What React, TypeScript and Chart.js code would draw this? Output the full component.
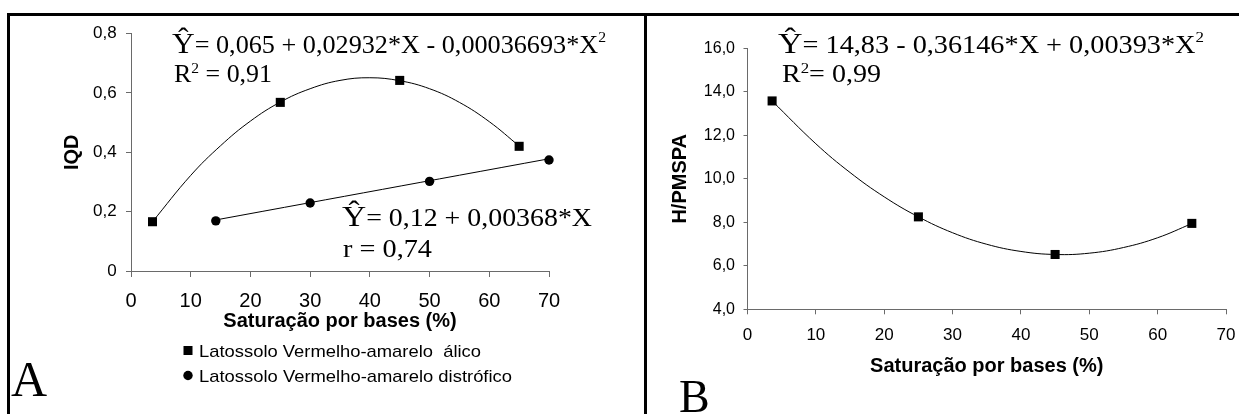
import React, { useEffect, useRef } from 'react';
import { Chart, registerables } from 'chart.js';

Chart.register(...registerables);

// ---------- data ----------
const xTickValues = [0, 10, 20, 30, 40, 50, 60, 70];

// Panel A – IQD
const aliX = [3.6, 25, 45, 65];
const aliY = [0.166, 0.568, 0.642, 0.42];
const disX = [14.2, 30, 50, 70];
const disY = [0.169, 0.229, 0.302, 0.374];
const aliFitX = [3.6, 10, 15, 20, 25, 30, 35, 40, 45, 50, 55, 60, 65];
const aliFitY = [0.166, 0.322, 0.422, 0.505, 0.569, 0.614, 0.642, 0.651, 0.641, 0.614, 0.568, 0.503, 0.421];
const disFitX = [14.2, 70];
const disFitY = [0.172, 0.378];
const yTicksA = [0, 0.2, 0.4, 0.6, 0.8];

// Panel B – H/PMSPA
const hX = [3.6, 25, 45, 65];
const hY = [13.58, 8.25, 6.52, 7.95];
const hFitX = [3.6, 10, 15, 20, 25, 30, 35, 40, 45, 50, 55, 60, 65];
const hFitY = [13.58, 11.61, 10.29, 9.17, 8.25, 7.52, 6.99, 6.66, 6.52, 6.58, 6.84, 7.29, 7.94];
const yTicksB = [4, 6, 8, 10, 12, 14, 16];

const xTitle = 'Saturação por bases (%)';
const legendA = ['Latossolo Vermelho-amarelo  álico', 'Latossolo Vermelho-amarelo distrófico'];

// ---------- helpers ----------
const SANS = '"Liberation Sans", Arial, sans-serif';
const SERIF = '"Liberation Serif", "Times New Roman", serif';
const AXIS = '#6a6a6a';

type Part = { t: string; size: number; dy?: number; family?: string; weight?: string };

function drawRich(ctx: CanvasRenderingContext2D, x: number, y: number, right: number | null, parts: Part[]) {
  const fam = (p: Part) => `${p.weight || 'normal'} ${p.size}px ${p.family || SERIF}`;
  const widths = parts.map((p) => {
    ctx.font = fam(p);
    return ctx.measureText(p.t).width;
  });
  const natural = widths.reduce((a, b) => a + b, 0);
  const sx = right != null ? (right - x) / natural : 1;
  ctx.save();
  ctx.translate(x, y);
  ctx.scale(sx, 1);
  ctx.fillStyle = '#000';
  ctx.textAlign = 'left';
  ctx.textBaseline = 'alphabetic';
  let cx = 0;
  parts.forEach((p, i) => {
    ctx.font = fam(p);
    ctx.fillText(p.t, cx, p.dy || 0);
    cx += widths[i];
  });
  ctx.restore();
}

const pts = (xs: number[], ys: number[]) => xs.map((x, i) => ({ x, y: ys[i] }));

const fmt1 = (v: number) => (v === 0 ? '0' : v.toFixed(1).replace('.', ','));
const fmtB = (v: number) => v.toFixed(1).replace('.', ',');

type Geo = {
  padL: number; padR: number; padT: number; padB: number;
  yW: number; xH: number;
  xTL: number; yTL: number; xPad: number; yPad: number;
  xFs: number; yFs: number;
  yMin: number; yMax: number; yTicks: number[]; yFmt: (v: number) => string; yTitle: string;
};

function makeOptions(g: Geo): any {
  const zeroPad = (s: any) => {
    s.paddingLeft = 0; s.paddingRight = 0; s.paddingTop = 0; s.paddingBottom = 0;
  };
  return {
    responsive: false,
    animation: false,
    events: [],
    layout: { padding: { left: g.padL, right: g.padR, top: g.padT, bottom: g.padB } },
    plugins: { legend: { display: false }, tooltip: { enabled: false }, title: { display: false } },
    scales: {
      x: {
        type: 'linear',
        min: 0,
        max: 70,
        afterBuildTicks: (s: any) => { s.ticks = xTickValues.map((v) => ({ value: v })); },
        afterFit: (s: any) => { s.height = g.xH; zeroPad(s); },
        grid: { drawOnChartArea: false, drawTicks: true, tickLength: g.xTL, color: AXIS, lineWidth: 1 },
        border: { display: true, color: AXIS, width: 1 },
        ticks: {
          padding: g.xPad, color: '#000', font: { size: g.xFs, family: SANS },
          maxRotation: 0, autoSkip: false, callback: (v: any) => String(v),
        },
        title: { display: true, text: xTitle, color: '#000', font: { size: 20, weight: 'bold', family: SANS }, padding: 0 },
      },
      y: {
        type: 'linear',
        min: g.yMin,
        max: g.yMax,
        afterBuildTicks: (s: any) => { s.ticks = g.yTicks.map((v) => ({ value: v })); },
        afterFit: (s: any) => { s.width = g.yW; zeroPad(s); },
        grid: { drawOnChartArea: false, drawTicks: true, tickLength: g.yTL, color: AXIS, lineWidth: 1 },
        border: { display: true, color: AXIS, width: 1 },
        ticks: {
          padding: g.yPad, color: '#000', font: { size: g.yFs, family: SANS },
          autoSkip: false, callback: (v: any) => g.yFmt(Number(v)),
        },
        title: { display: true, text: g.yTitle, color: '#000', font: { size: 20, weight: 'bold', family: SANS }, padding: 0 },
      },
    },
  };
}

const curveDs = (data: any[]) => ({
  data, showLine: true, borderColor: '#000', borderWidth: 1, pointRadius: 0, tension: 0.4, clip: false, fill: false,
});
const markDs = (data: any[], style: string, r: number) => ({
  data, showLine: false, pointStyle: style, pointRadius: r, backgroundColor: '#000', borderColor: '#000',
  borderWidth: 0, clip: false,
});

// ---------- annotation plugins ----------
const annotA = {
  id: 'annotA',
  afterDraw(chart: any) {
    const ctx: CanvasRenderingContext2D = chart.ctx;
    drawRich(ctx, 172, 53, 606, [
      { t: 'Ŷ', size: 30 },
      { t: '= 0,065 + 0,02932*X - 0,00036693*X', size: 25 },
      { t: '2', size: 15, dy: -11 },
    ]);
    drawRich(ctx, 174, 82, 272, [
      { t: 'R', size: 25 },
      { t: '2', size: 15, dy: -9 },
      { t: ' = 0,91', size: 25 },
    ]);
    drawRich(ctx, 342, 226, 592, [
      { t: 'Ŷ', size: 30 },
      { t: '= 0,12 + 0,00368*X', size: 25 },
    ]);
    drawRich(ctx, 343, 257, 432, [{ t: 'r = 0,74', size: 25 }]);
    // legend
    ctx.save();
    ctx.fillStyle = '#000';
    ctx.fillRect(183.5, 346, 9, 9);
    ctx.beginPath();
    ctx.arc(188, 375.5, 4.7, 0, Math.PI * 2);
    ctx.fill();
    ctx.restore();
    drawRich(ctx, 199, 357, 481, [{ t: legendA[0], size: 17, family: SANS }]);
    drawRich(ctx, 199, 381.5, 512, [{ t: legendA[1], size: 17, family: SANS }]);
    // panel letter
    drawRich(ctx, 11, 396, null, [{ t: 'A', size: 50 }]);
  },
};

const OFFB = 647;
const annotB = {
  id: 'annotB',
  afterDraw(chart: any) {
    const ctx: CanvasRenderingContext2D = chart.ctx;
    drawRich(ctx, 778 - OFFB, 53, 1204 - OFFB, [
      { t: 'Ŷ', size: 30 },
      { t: '= 14,83 - 0,36146*X + 0,00393*X', size: 25 },
      { t: '2', size: 15, dy: -11 },
    ]);
    drawRich(ctx, 782 - OFFB, 82, 881 - OFFB, [
      { t: 'R', size: 25 },
      { t: '2', size: 15, dy: -9 },
      { t: '= 0,99', size: 25 },
    ]);
    drawRich(ctx, 679 - OFFB, 412, null, [{ t: 'B', size: 46 }]);
  },
};

// ---------- component ----------
export default function App() {
  const refA = useRef<HTMLCanvasElement | null>(null);
  const refB = useRef<HTMLCanvasElement | null>(null);

  useEffect(() => {
    Chart.defaults.font.family = SANS;
    Chart.defaults.color = '#000';

    const geoA: Geo = {
      padL: 60, padR: 644 - 549, padT: 33.5, padB: 414 - 271 - 62,
      yW: 71, xH: 62, xTL: 6, yTL: 5, xPad: 12.7, yPad: 9.3, xFs: 20, yFs: 17,
      yMin: 0, yMax: 0.8, yTicks: yTicksA, yFmt: fmt1, yTitle: 'IQD',
    };
    const geoB: Geo = {
      padL: 21, padR: 592 - (1226 - OFFB), padT: 48.3, padB: 414 - 309.3 - 68.7,
      yW: 747.5 - OFFB - 21, xH: 68.7, xTL: 5, yTL: 4, xPad: 10.5, yPad: 8.5, xFs: 17, yFs: 16,
      yMin: 4, yMax: 16, yTicks: yTicksB, yFmt: fmtB, yTitle: 'H/PMSPA',
    };

    const chartA = new Chart(refA.current as HTMLCanvasElement, {
      type: 'line',
      data: {
        datasets: [
          curveDs(pts(aliFitX, aliFitY)),
          curveDs(pts(disFitX, disFitY)),
          markDs(pts(aliX, aliY), 'rect', 6.4),
          markDs(pts(disX, disY), 'circle', 4.7),
        ] as any,
      },
      options: makeOptions(geoA),
      plugins: [annotA],
    });

    const chartB = new Chart(refB.current as HTMLCanvasElement, {
      type: 'line',
      data: {
        datasets: [
          curveDs(pts(hFitX, hFitY)),
          markDs(pts(hX, hY), 'rect', 6.4),
        ] as any,
      },
      options: makeOptions(geoB),
      plugins: [annotB],
    });

    return () => {
      chartA.destroy();
      chartB.destroy();
    };
  }, []);

  return (
    <div style={{ position: 'absolute', left: 0, top: 0, width: 1239, height: 414, background: '#fff', overflow: 'hidden' }}>
      <canvas ref={refA} width={644} height={414} style={{ position: 'absolute', left: 0, top: 0, display: 'block' }} />
      <canvas ref={refB} width={592} height={414} style={{ position: 'absolute', left: OFFB, top: 0, display: 'block' }} />
      <div style={{ position: 'absolute', left: 7, top: 13, width: 1232, height: 3, background: '#000' }} />
      <div style={{ position: 'absolute', left: 7, top: 13, width: 3, height: 401, background: '#000' }} />
      <div style={{ position: 'absolute', left: 644, top: 13, width: 3, height: 401, background: '#000' }} />
    </div>
  );
}
